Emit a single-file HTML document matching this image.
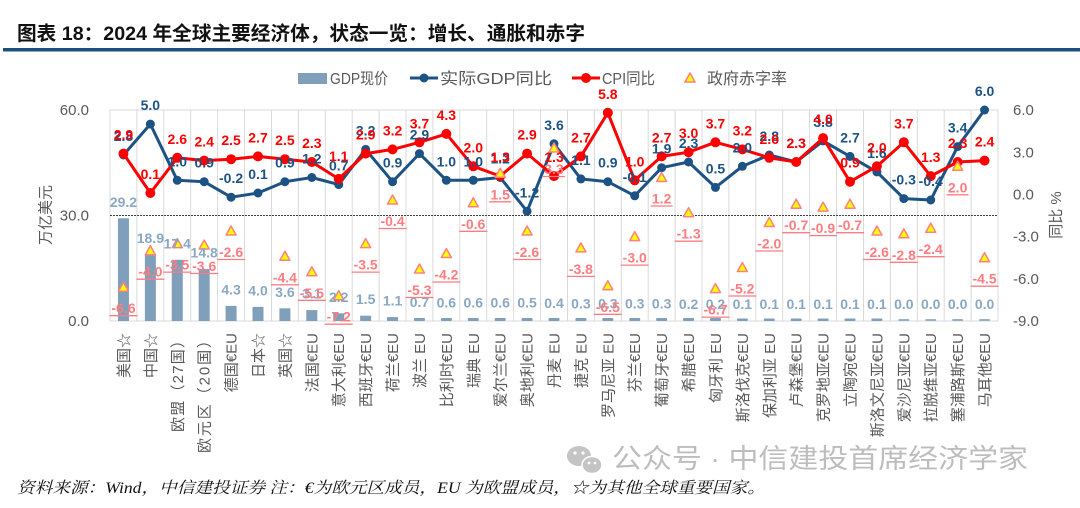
<!DOCTYPE html>
<html><head><meta charset="utf-8"><style>
html,body{margin:0;padding:0;background:#fff;}
svg{display:block;}
.cjk{font-family:"Liberation Sans","Noto Sans CJK SC",sans-serif;}
.ax{font-family:"Liberation Sans","Noto Sans CJK SC",sans-serif;font-size:15px;fill:#595959;}
.xl{font-family:"Liberation Sans","Noto Sans CJK SC",sans-serif;font-size:15px;fill:#595959;}
.bl{font-family:"Liberation Sans",sans-serif;font-size:14px;font-weight:bold;fill:#1c5384;text-anchor:middle;}
.rl{font-family:"Liberation Sans",sans-serif;font-size:14px;font-weight:bold;fill:#ff0000;text-anchor:middle;}
.dl{font-family:"Liberation Sans",sans-serif;font-size:14px;font-weight:bold;fill:#ff7c80;text-anchor:middle;}
.gl{font-family:"Liberation Sans",sans-serif;font-size:14px;font-weight:bold;fill:#8aa8c2;text-anchor:middle;}
</style></head><body>
<svg width="1080" height="508" viewBox="0 0 1080 508" xmlns="http://www.w3.org/2000/svg">
<rect width="1080" height="508" fill="#fff"/>
<!-- title -->
<text x="17" y="40" class="cjk" font-size="19.5" font-weight="bold" fill="#111" textLength="568" lengthAdjust="spacingAndGlyphs">图表 18：2024 年全球主要经济体，状态一览：增长、通胀和赤字</text>
<rect x="3" y="48" width="1077" height="3.5" fill="#1b4f7e"/>

<!-- legend -->
<rect x="298" y="73" width="29" height="11" fill="#7f9fba"/>
<text x="330" y="84" class="cjk" font-size="16" fill="#595959" textLength="58" lengthAdjust="spacingAndGlyphs">GDP现价</text>
<line x1="410" y1="78" x2="438" y2="78" stroke="#1c5384" stroke-width="3"/>
<circle cx="424" cy="78" r="4.5" fill="#1c5384"/>
<text x="440" y="84" class="cjk" font-size="16" fill="#595959" textLength="112" lengthAdjust="spacingAndGlyphs">实际GDP同比</text>
<line x1="572" y1="78" x2="600" y2="78" stroke="#ff0000" stroke-width="3"/>
<circle cx="586" cy="78" r="5" fill="#ff0000"/>
<text x="602" y="84" class="cjk" font-size="16" fill="#595959" textLength="53" lengthAdjust="spacingAndGlyphs">CPI同比</text>
<polygon points="690,73 685,82 695,82" fill="#ffff00" stroke="#ff8080" stroke-width="1.5"/>
<text x="707" y="84" class="cjk" font-size="16" fill="#595959" textLength="80" lengthAdjust="spacingAndGlyphs">政府赤字率</text>

<!-- grid -->
<g stroke="#d9d9d9" stroke-width="1">
<line x1="110" y1="110" x2="998" y2="110"/>
<line x1="110" y1="321" x2="998" y2="321"/>
<line x1="110" y1="110" x2="110" y2="321"/><line x1="136.9" y1="110" x2="136.9" y2="321"/><line x1="163.8" y1="110" x2="163.8" y2="321"/><line x1="190.7" y1="110" x2="190.7" y2="321"/><line x1="217.6" y1="110" x2="217.6" y2="321"/><line x1="244.5" y1="110" x2="244.5" y2="321"/><line x1="271.5" y1="110" x2="271.5" y2="321"/><line x1="298.4" y1="110" x2="298.4" y2="321"/><line x1="325.3" y1="110" x2="325.3" y2="321"/><line x1="352.2" y1="110" x2="352.2" y2="321"/><line x1="379.1" y1="110" x2="379.1" y2="321"/><line x1="406" y1="110" x2="406" y2="321"/><line x1="432.9" y1="110" x2="432.9" y2="321"/><line x1="459.8" y1="110" x2="459.8" y2="321"/><line x1="486.7" y1="110" x2="486.7" y2="321"/><line x1="513.6" y1="110" x2="513.6" y2="321"/><line x1="540.5" y1="110" x2="540.5" y2="321"/><line x1="567.5" y1="110" x2="567.5" y2="321"/><line x1="594.4" y1="110" x2="594.4" y2="321"/><line x1="621.3" y1="110" x2="621.3" y2="321"/><line x1="648.2" y1="110" x2="648.2" y2="321"/><line x1="675.1" y1="110" x2="675.1" y2="321"/><line x1="702" y1="110" x2="702" y2="321"/><line x1="728.9" y1="110" x2="728.9" y2="321"/><line x1="755.8" y1="110" x2="755.8" y2="321"/><line x1="782.7" y1="110" x2="782.7" y2="321"/><line x1="809.6" y1="110" x2="809.6" y2="321"/><line x1="836.5" y1="110" x2="836.5" y2="321"/><line x1="863.5" y1="110" x2="863.5" y2="321"/><line x1="890.4" y1="110" x2="890.4" y2="321"/><line x1="917.3" y1="110" x2="917.3" y2="321"/><line x1="944.2" y1="110" x2="944.2" y2="321"/><line x1="971.1" y1="110" x2="971.1" y2="321"/><line x1="998" y1="110" x2="998" y2="321"/>
</g>
<line x1="110" y1="215.5" x2="998" y2="215.5" stroke="#404040" stroke-width="1" stroke-dasharray="2,1"/>

<!-- axes labels -->
<g class="ax" text-anchor="end">
<text x="89" y="115">60.0</text><text x="89" y="220.5">30.0</text><text x="89" y="326">0.0</text>
</g>
<g class="ax" text-anchor="start">
<text x="1013" y="115">6.0</text><text x="1013" y="157.5">3.0</text><text x="1013" y="199.5">0.0</text><text x="1013" y="241.5">-3.0</text><text x="1013" y="284">-6.0</text><text x="1013" y="326">-9.0</text>
</g>
<text class="ax" transform="translate(50.5,215) rotate(-90)" text-anchor="middle">万亿美元</text>
<text class="ax" transform="translate(1061,215) rotate(-90)" text-anchor="middle">同比 %</text>

<!-- bars -->
<g fill="#7f9fba">
<rect x="117.95" y="218.3" width="11" height="102.7"/>
<rect x="144.86" y="254.5" width="11" height="66.5"/>
<rect x="171.77" y="259.8" width="11" height="61.2"/>
<rect x="198.68" y="269" width="11" height="52"/>
<rect x="225.59" y="305.9" width="11" height="15.1"/>
<rect x="252.5" y="306.9" width="11" height="14.1"/>
<rect x="279.41" y="308.3" width="11" height="12.7"/>
<rect x="306.32" y="310.1" width="11" height="10.9"/>
<rect x="333.23" y="313.3" width="11" height="7.7"/>
<rect x="360.14" y="315.7" width="11" height="5.3"/>
<rect x="387.05" y="317.1" width="11" height="3.9"/>
<rect x="413.95" y="318" width="11" height="3" rx="1"/>
<rect x="440.86" y="318" width="11" height="3" rx="1"/>
<rect x="467.77" y="318" width="11" height="3" rx="1"/>
<rect x="494.68" y="318" width="11" height="3" rx="1"/>
<rect x="521.59" y="318" width="11" height="3" rx="1"/>
<rect x="548.5" y="318" width="11" height="3" rx="1"/>
<rect x="575.41" y="318" width="11" height="3" rx="1"/>
<rect x="602.32" y="318" width="11" height="3" rx="1"/>
<rect x="629.23" y="318" width="11" height="3" rx="1"/>
<rect x="656.14" y="318" width="11" height="3" rx="1"/>
<rect x="683.05" y="318" width="11" height="3" rx="1"/>
<rect x="709.95" y="318" width="11" height="3" rx="1"/>
<rect x="736.86" y="318.5" width="11" height="2.5" rx="1"/>
<rect x="763.77" y="318.5" width="11" height="2.5" rx="1"/>
<rect x="790.68" y="318.5" width="11" height="2.5" rx="1"/>
<rect x="817.59" y="318.5" width="11" height="2.5" rx="1"/>
<rect x="844.5" y="318.5" width="11" height="2.5" rx="1"/>
<rect x="871.41" y="318.5" width="11" height="2.5" rx="1"/>
<rect x="898.32" y="319" width="11" height="2" rx="1" opacity="0.8"/>
<rect x="925.23" y="319" width="11" height="2" rx="1" opacity="0.8"/>
<rect x="952.14" y="319" width="11" height="2" rx="1" opacity="0.8"/>
<rect x="979.05" y="319" width="11" height="2" rx="1" opacity="0.8"/>
</g>

<!-- blue line -->
<polyline fill="none" stroke="#1c5384" stroke-width="3" stroke-linejoin="round" points="123.45,155 150.36,124.1 177.27,180.3 204.18,181.7 231.09,197.2 258,193 284.91,181.7 311.82,177.5 338.73,184.6 365.64,149.4 392.55,181.7 419.45,153.6 446.36,180.3 473.27,180.3 500.18,177.5 527.09,211.3 554,143.8 580.91,178.9 607.82,181.7 634.73,195.8 661.64,167.7 688.55,162 715.45,187.4 742.36,166.3 769.27,155 796.18,162 823.09,140.9 850,156.4 876.91,171.9 903.82,198.6 930.73,200 957.64,146.6 984.55,110"/>
<g fill="#1c5384">
<circle cx="123.45" cy="155" r="4.5"/><circle cx="150.36" cy="124.1" r="4.5"/><circle cx="177.27" cy="180.3" r="4.5"/><circle cx="204.18" cy="181.7" r="4.5"/><circle cx="231.09" cy="197.2" r="4.5"/><circle cx="258" cy="193" r="4.5"/><circle cx="284.91" cy="181.7" r="4.5"/><circle cx="311.82" cy="177.5" r="4.5"/><circle cx="338.73" cy="184.6" r="4.5"/><circle cx="365.64" cy="149.4" r="4.5"/><circle cx="392.55" cy="181.7" r="4.5"/><circle cx="419.45" cy="153.6" r="4.5"/><circle cx="446.36" cy="180.3" r="4.5"/><circle cx="473.27" cy="180.3" r="4.5"/><circle cx="500.18" cy="177.5" r="4.5"/><circle cx="527.09" cy="211.3" r="4.5"/><circle cx="554" cy="143.8" r="4.5"/><circle cx="580.91" cy="178.9" r="4.5"/><circle cx="607.82" cy="181.7" r="4.5"/><circle cx="634.73" cy="195.8" r="4.5"/><circle cx="661.64" cy="167.7" r="4.5"/><circle cx="688.55" cy="162" r="4.5"/><circle cx="715.45" cy="187.4" r="4.5"/><circle cx="742.36" cy="166.3" r="4.5"/><circle cx="769.27" cy="155" r="4.5"/><circle cx="796.18" cy="162" r="4.5"/><circle cx="823.09" cy="140.9" r="4.5"/><circle cx="850" cy="156.4" r="4.5"/><circle cx="876.91" cy="171.9" r="4.5"/><circle cx="903.82" cy="198.6" r="4.5"/><circle cx="930.73" cy="200" r="4.5"/><circle cx="957.64" cy="146.6" r="4.5"/><circle cx="984.55" cy="110" r="4.5"/>
</g>

<!-- red line -->
<polyline fill="none" stroke="#ff0000" stroke-width="3" stroke-linejoin="round" points="123.45,153.6 150.36,193 177.27,157.8 204.18,160.6 231.09,159.2 258,156.4 284.91,159.2 311.82,162 338.73,178.9 365.64,153.6 392.55,149.4 419.45,142.3 446.36,133.9 473.27,166.3 500.18,176.1 527.09,153.6 554,176.1 580.91,156.4 607.82,112.8 634.73,180.3 661.64,156.4 688.55,152.2 715.45,142.3 742.36,149.4 769.27,157.8 796.18,162 823.09,138.1 850,181.7 876.91,166.3 903.82,142.3 930.73,176.1 957.64,162 984.55,160.6"/>
<g fill="#ff0000">
<circle cx="123.45" cy="153.6" r="5"/><circle cx="150.36" cy="193" r="5"/><circle cx="177.27" cy="157.8" r="5"/><circle cx="204.18" cy="160.6" r="5"/><circle cx="231.09" cy="159.2" r="5"/><circle cx="258" cy="156.4" r="5"/><circle cx="284.91" cy="159.2" r="5"/><circle cx="311.82" cy="162" r="5"/><circle cx="338.73" cy="178.9" r="5"/><circle cx="365.64" cy="153.6" r="5"/><circle cx="392.55" cy="149.4" r="5"/><circle cx="419.45" cy="142.3" r="5"/><circle cx="446.36" cy="133.9" r="5"/><circle cx="473.27" cy="166.3" r="5"/><circle cx="500.18" cy="176.1" r="5"/><circle cx="527.09" cy="153.6" r="5"/><circle cx="554" cy="176.1" r="5"/><circle cx="580.91" cy="156.4" r="5"/><circle cx="607.82" cy="112.8" r="5"/><circle cx="634.73" cy="180.3" r="5"/><circle cx="661.64" cy="156.4" r="5"/><circle cx="688.55" cy="152.2" r="5"/><circle cx="715.45" cy="142.3" r="5"/><circle cx="742.36" cy="149.4" r="5"/><circle cx="769.27" cy="157.8" r="5"/><circle cx="796.18" cy="162" r="5"/><circle cx="823.09" cy="138.1" r="5"/><circle cx="850" cy="181.7" r="5"/><circle cx="876.91" cy="166.3" r="5"/><circle cx="903.82" cy="142.3" r="5"/><circle cx="930.73" cy="176.1" r="5"/><circle cx="957.64" cy="162" r="5"/><circle cx="984.55" cy="160.6" r="5"/>
</g>

<!-- deficit triangles -->
<g fill="#ffff00" stroke="#ff8080" stroke-width="1.5" stroke-linejoin="round">
<polygon points="123.45,282.2 118.45,291.2 128.45,291.2"/>
<polygon points="150.36,245.7 145.36,254.7 155.36,254.7"/>
<polygon points="177.27,238.6 172.27,247.6 182.27,247.6"/>
<polygon points="204.18,240 199.18,249 209.18,249"/>
<polygon points="231.09,226 226.09,235 236.09,235"/>
<polygon points="284.91,251.3 279.91,260.3 289.91,260.3"/>
<polygon points="311.82,266.8 306.82,275.8 316.82,275.8"/>
<polygon points="338.73,290.7 333.73,299.7 343.73,299.7"/>
<polygon points="365.64,238.6 360.64,247.6 370.64,247.6"/>
<polygon points="392.55,195 387.55,204 397.55,204"/>
<polygon points="419.45,264 414.45,273 424.45,273"/>
<polygon points="446.36,248.5 441.36,257.5 451.36,257.5"/>
<polygon points="473.27,197.8 468.27,206.8 478.27,206.8"/>
<polygon points="500.18,168.3 495.18,177.3 505.18,177.3"/>
<polygon points="527.09,226 522.09,235 532.09,235"/>
<polygon points="554,143 549,152 559,152"/>
<polygon points="580.91,242.9 575.91,251.9 585.91,251.9"/>
<polygon points="607.82,280.8 602.82,289.8 612.82,289.8"/>
<polygon points="634.73,231.6 629.73,240.6 639.73,240.6"/>
<polygon points="661.64,172.5 656.64,181.5 666.64,181.5"/>
<polygon points="688.55,207.7 683.55,216.7 693.55,216.7"/>
<polygon points="715.45,283.6 710.45,292.6 720.45,292.6"/>
<polygon points="742.36,262.5 737.36,271.5 747.36,271.5"/>
<polygon points="769.27,217.5 764.27,226.5 774.27,226.5"/>
<polygon points="796.18,199.2 791.18,208.2 801.18,208.2"/>
<polygon points="823.09,202.1 818.09,211.1 828.09,211.1"/>
<polygon points="850,199.2 845,208.2 855,208.2"/>
<polygon points="876.91,226 871.91,235 881.91,235"/>
<polygon points="903.82,228.8 898.82,237.8 908.82,237.8"/>
<polygon points="930.73,223.2 925.73,232.2 935.73,232.2"/>
<polygon points="957.64,161.3 952.64,170.3 962.64,170.3"/>
<polygon points="984.55,252.7 979.55,261.7 989.55,261.7"/>
</g>

<!-- bar labels -->
<g class="gl">
<text x="123.45" y="206.8">29.2</text><text x="150.36" y="243">18.9</text><text x="177.27" y="248.3">17.4</text><text x="204.18" y="257.5">14.8</text><text x="231.09" y="294.4">4.3</text><text x="258" y="295.4">4.0</text><text x="284.91" y="296.8">3.6</text><text x="311.82" y="298.6">3.1</text><text x="338.73" y="301.8">2.2</text><text x="365.64" y="304.2">1.5</text><text x="392.55" y="305.6">1.1</text><text x="419.45" y="307">0.7</text><text x="446.36" y="307.4">0.6</text><text x="473.27" y="307.4">0.6</text><text x="500.18" y="307.4">0.6</text><text x="527.09" y="307.7">0.5</text><text x="554" y="308.1">0.4</text><text x="580.91" y="308.4">0.3</text><text x="607.82" y="308.4">0.3</text><text x="634.73" y="308.4">0.3</text><text x="661.64" y="308.4">0.3</text><text x="688.55" y="308.8">0.2</text><text x="715.45" y="308.8">0.2</text><text x="742.36" y="309">0.1</text><text x="769.27" y="309">0.1</text><text x="796.18" y="309">0.1</text><text x="823.09" y="309">0.1</text><text x="850" y="309">0.1</text><text x="876.91" y="309">0.1</text><text x="903.82" y="309">0.0</text><text x="930.73" y="309">0.0</text><text x="957.64" y="309">0.0</text><text x="984.55" y="309">0.0</text>
</g>

<!-- deficit labels -->
<g class="dl">
<text x="123.45" y="313.2">-6.6</text><text x="150.36" y="276.7">-4.0</text><text x="177.27" y="269.6">-3.5</text><text x="204.18" y="271">-3.6</text><text x="231.09" y="257">-2.6</text><text x="284.91" y="282.3">-4.4</text><text x="311.82" y="297.8">-5.5</text><text x="338.73" y="321.7">-7.2</text><text x="365.64" y="269.6">-3.5</text><text x="392.55" y="226">-0.4</text><text x="419.45" y="295">-5.3</text><text x="446.36" y="279.5">-4.2</text><text x="473.27" y="228.8">-0.6</text><text x="500.18" y="199.3">1.5</text><text x="527.09" y="257">-2.6</text><text x="554" y="174">3.3</text><text x="580.91" y="273.9">-3.8</text><text x="607.82" y="311.8">-6.5</text><text x="634.73" y="262.6">-3.0</text><text x="661.64" y="203.5">1.2</text><text x="688.55" y="238.7">-1.3</text><text x="715.45" y="314.6">-6.7</text><text x="742.36" y="293.5">-5.2</text><text x="769.27" y="248.5">-2.0</text><text x="796.18" y="230.2">-0.7</text><text x="823.09" y="233.1">-0.9</text><text x="850" y="230.2">-0.7</text><text x="876.91" y="257">-2.6</text><text x="903.82" y="259.8">-2.8</text><text x="930.73" y="254.2">-2.4</text><text x="957.64" y="192.3">2.0</text><text x="984.55" y="283.7">-4.5</text>
</g>
<g stroke="#ff7c80" stroke-width="1.3">
<line x1="109.5" y1="315.7" x2="137.5" y2="315.7"/><line x1="136.4" y1="279.2" x2="164.4" y2="279.2"/><line x1="163.3" y1="272.1" x2="191.3" y2="272.1"/><line x1="190.2" y1="273.5" x2="218.2" y2="273.5"/><line x1="217.1" y1="259.5" x2="245.1" y2="259.5"/><line x1="270.9" y1="284.8" x2="298.9" y2="284.8"/><line x1="297.8" y1="300.3" x2="325.8" y2="300.3"/><line x1="324.7" y1="324.2" x2="352.7" y2="324.2"/><line x1="351.6" y1="272.1" x2="379.6" y2="272.1"/><line x1="378.6" y1="228.5" x2="406.6" y2="228.5"/><line x1="405.5" y1="297.5" x2="433.5" y2="297.5"/><line x1="432.4" y1="282" x2="460.4" y2="282"/><line x1="459.3" y1="231.3" x2="487.3" y2="231.3"/><line x1="489.2" y1="201.8" x2="511.2" y2="201.8"/><line x1="513.1" y1="259.5" x2="541.1" y2="259.5"/><line x1="543" y1="176.5" x2="565" y2="176.5"/><line x1="566.9" y1="276.4" x2="594.9" y2="276.4"/><line x1="593.8" y1="314.3" x2="621.8" y2="314.3"/><line x1="620.7" y1="265.1" x2="648.7" y2="265.1"/><line x1="650.6" y1="206" x2="672.6" y2="206"/><line x1="674.6" y1="241.2" x2="702.6" y2="241.2"/><line x1="701.5" y1="317.1" x2="729.5" y2="317.1"/><line x1="728.4" y1="296" x2="756.4" y2="296"/><line x1="755.3" y1="251" x2="783.3" y2="251"/><line x1="782.2" y1="232.7" x2="810.2" y2="232.7"/><line x1="809.1" y1="235.6" x2="837.1" y2="235.6"/><line x1="836" y1="232.7" x2="864" y2="232.7"/><line x1="862.9" y1="259.5" x2="890.9" y2="259.5"/><line x1="889.8" y1="262.3" x2="917.8" y2="262.3"/><line x1="916.7" y1="256.7" x2="944.7" y2="256.7"/><line x1="946.6" y1="194.8" x2="968.6" y2="194.8"/><line x1="970.6" y1="286.2" x2="998.6" y2="286.2"/>
</g>

<!-- blue labels -->
<g class="bl">
<text x="123.45" y="141">2.8</text><text x="150.36" y="110.1">5.0</text><text x="177.27" y="166.3">1.0</text><text x="204.18" y="167.7">0.9</text><text x="231.09" y="183.2">-0.2</text><text x="258" y="179">0.1</text><text x="284.91" y="167.7">0.9</text><text x="311.82" y="163.5">1.2</text><text x="338.73" y="170.6">0.7</text><text x="365.64" y="135.4">3.2</text><text x="392.55" y="167.7">0.9</text><text x="419.45" y="139.6">2.9</text><text x="446.36" y="166.3">1.0</text><text x="473.27" y="166.3">1.0</text><text x="500.18" y="163.5">1.2</text><text x="527.09" y="197.3">-1.2</text><text x="554" y="129.8">3.6</text><text x="580.91" y="164.9">1.1</text><text x="607.82" y="167.7">0.9</text><text x="634.73" y="181.8">-0.1</text><text x="661.64" y="153.7">1.9</text><text x="688.55" y="148">2.3</text><text x="715.45" y="173.4">0.5</text><text x="742.36" y="152.3">2.0</text><text x="769.27" y="141">2.8</text><text x="796.18" y="148">2.3</text><text x="823.09" y="126.9">3.8</text><text x="850" y="142.4">2.7</text><text x="876.91" y="157.9">1.6</text><text x="903.82" y="184.6">-0.3</text><text x="930.73" y="186">-0.4</text><text x="957.64" y="132.6">3.4</text><text x="984.55" y="96">6.0</text>
</g>

<!-- red labels -->
<g class="rl">
<text x="123.45" y="139.6">2.9</text><text x="150.36" y="179">0.1</text><text x="177.27" y="143.8">2.6</text><text x="204.18" y="146.6">2.4</text><text x="231.09" y="145.2">2.5</text><text x="258" y="142.4">2.7</text><text x="284.91" y="145.2">2.5</text><text x="311.82" y="148">2.3</text><text x="338.73" y="161">1.1</text><text x="365.64" y="139.6">2.9</text><text x="392.55" y="135.4">3.2</text><text x="419.45" y="128.3">3.7</text><text x="446.36" y="119.9">4.3</text><text x="473.27" y="152.3">2.0</text><text x="500.18" y="162.1">1.3</text><text x="527.09" y="139.6">2.9</text><text x="554" y="162.1">1.3</text><text x="580.91" y="142.4">2.7</text><text x="607.82" y="98.8">5.8</text><text x="634.73" y="166.3">1.0</text><text x="661.64" y="142.4">2.7</text><text x="688.55" y="138.2">3.0</text><text x="715.45" y="128.3">3.7</text><text x="742.36" y="135.4">3.2</text><text x="769.27" y="143.8">2.6</text><text x="796.18" y="148">2.3</text><text x="823.09" y="124.1">4.0</text><text x="850" y="167.7">0.9</text><text x="876.91" y="152.3">2.0</text><text x="903.82" y="128.3">3.7</text><text x="930.73" y="162.1">1.3</text><text x="957.64" y="148">2.3</text><text x="984.55" y="146.6">2.4</text>
</g>

<!-- x labels -->
<g class="xl" text-anchor="end">
<text transform="translate(128.95,333) rotate(-90)">美国☆</text>
<text transform="translate(155.86,333) rotate(-90)">中国☆</text>
<text transform="translate(182.77,333) rotate(-90)" textLength="99" lengthAdjust="spacing">欧盟（27国）</text>
<text transform="translate(209.68,333) rotate(-90)" textLength="120" lengthAdjust="spacing">欧元区（20国）</text>
<text transform="translate(236.59,333) rotate(-90)">德国€EU</text>
<text transform="translate(263.5,333) rotate(-90)">日本☆</text>
<text transform="translate(290.41,333) rotate(-90)">英国☆</text>
<text transform="translate(317.32,333) rotate(-90)">法国€EU</text>
<text transform="translate(344.23,333) rotate(-90)">意大利€EU</text>
<text transform="translate(371.14,333) rotate(-90)">西班牙€EU</text>
<text transform="translate(398.05,333) rotate(-90)">荷兰€EU</text>
<text transform="translate(424.95,333) rotate(-90)">波兰 EU</text>
<text transform="translate(451.86,333) rotate(-90)">比利时€EU</text>
<text transform="translate(478.77,333) rotate(-90)">瑞典 EU</text>
<text transform="translate(505.68,333) rotate(-90)">爱尔兰€EU</text>
<text transform="translate(532.59,333) rotate(-90)">奥地利€EU</text>
<text transform="translate(559.5,333) rotate(-90)">丹麦 EU</text>
<text transform="translate(586.41,333) rotate(-90)">捷克 EU</text>
<text transform="translate(613.32,333) rotate(-90)">罗马尼亚 EU</text>
<text transform="translate(640.23,333) rotate(-90)">芬兰€EU</text>
<text transform="translate(667.14,333) rotate(-90)">葡萄牙€EU</text>
<text transform="translate(694.05,333) rotate(-90)">希腊€EU</text>
<text transform="translate(720.95,333) rotate(-90)">匈牙利 EU</text>
<text transform="translate(747.86,333) rotate(-90)">斯洛伐克€EU</text>
<text transform="translate(774.77,333) rotate(-90)">保加利亚 EU</text>
<text transform="translate(801.68,333) rotate(-90)">卢森堡€EU</text>
<text transform="translate(828.59,333) rotate(-90)">克罗地亚€EU</text>
<text transform="translate(855.5,333) rotate(-90)">立陶宛€EU</text>
<text transform="translate(882.41,333) rotate(-90)">斯洛文尼亚€EU</text>
<text transform="translate(909.32,333) rotate(-90)">爱沙尼亚€EU</text>
<text transform="translate(936.23,333) rotate(-90)">拉脱维亚€EU</text>
<text transform="translate(963.14,333) rotate(-90)">塞浦路斯€EU</text>
<text transform="translate(990.05,333) rotate(-90)">马耳他€EU</text>
</g>

<!-- watermark -->
<g fill="#c4c4c4">
<ellipse cx="579" cy="456" rx="12" ry="10"/>
<ellipse cx="592" cy="465" rx="10" ry="8.5" stroke="#fff" stroke-width="1.5"/>
<circle cx="575" cy="453" r="1.6" fill="#fff"/><circle cx="583" cy="453" r="1.6" fill="#fff"/>
<circle cx="589" cy="463" r="1.4" fill="#fff"/><circle cx="595" cy="463" r="1.4" fill="#fff"/>
</g>
<text x="612" y="468" class="cjk" font-size="27" fill="#bdbdbd" textLength="416" lengthAdjust="spacingAndGlyphs">公众号 · 中信建投首席经济学家</text>

<!-- footer -->
<text x="17" y="493" font-family="'Liberation Serif','Noto Serif CJK SC',serif" font-style="italic" font-size="16" fill="#111" textLength="748" lengthAdjust="spacingAndGlyphs">资料来源：Wind，中信建投证券 注：€为欧元区成员，EU 为欧盟成员，☆为其他全球重要国家。</text>
</svg>
</body></html>
